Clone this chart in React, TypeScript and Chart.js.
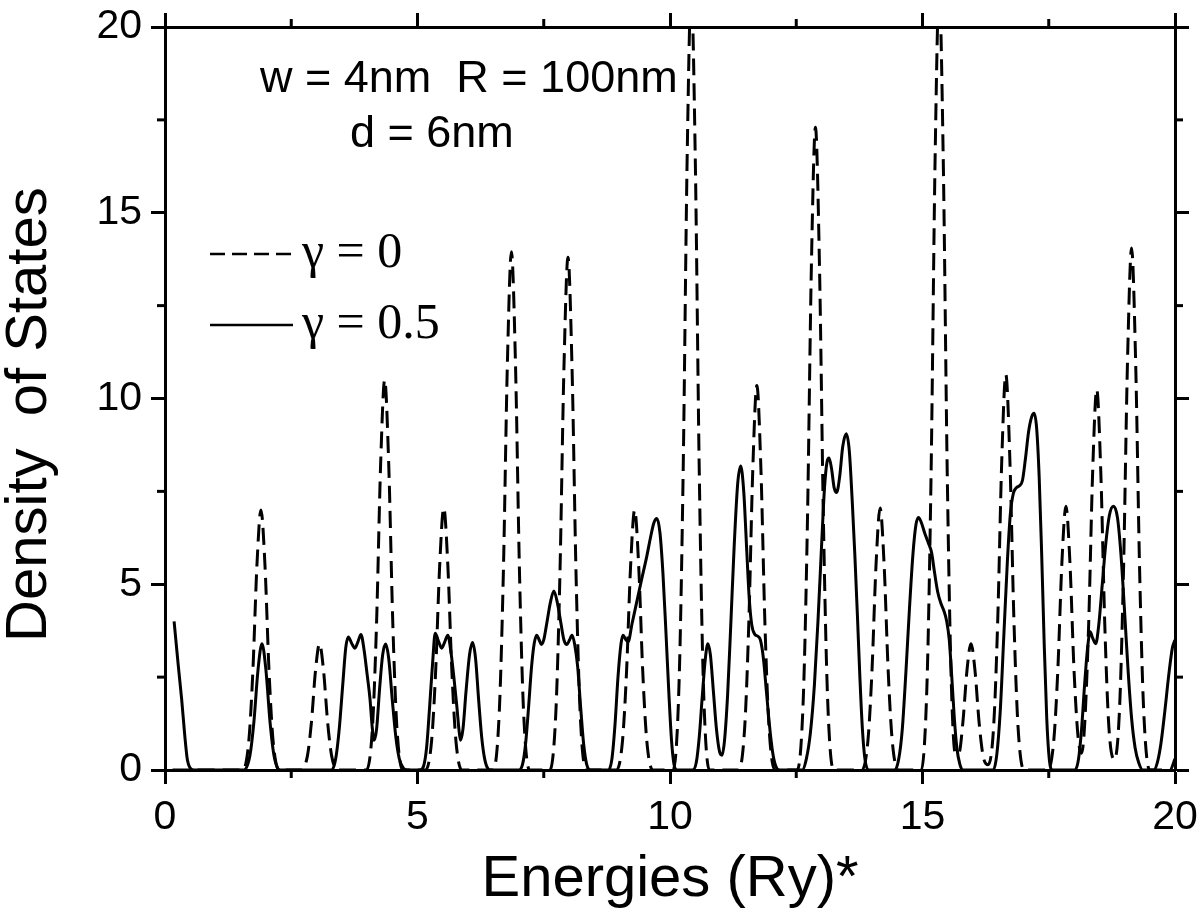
import React, { useEffect, useRef } from "react";
import { Chart, registerables } from "chart.js";

Chart.register(...registerables);

// ---- data ----
// Density of states, gamma = 0 (dashed): [energy, DOS]
const gamma0Curve: [number, number][] = [
  [0.15, 0], [1.54, 0], [1.66, 0.79], [1.74, 2.66], [1.82, 5.5], [1.9, 7.0], [1.98, 5.5], [2.06, 2.66], [2.14, 0.79], [2.26, 0],
  [2.7, 0], [2.82, 0.38], [2.9, 1.29], [2.98, 2.67], [3.06, 3.4], [3.14, 2.67], [3.22, 1.29], [3.3, 0.38], [3.42, 0],
  [3.99, 0], [4.11, 1.19], [4.19, 3.99], [4.27, 8.24], [4.35, 10.5], [4.43, 8.24], [4.51, 3.99], [4.59, 1.19], [4.71, 0],
  [5.16, 0], [5.28, 0.8], [5.36, 2.68], [5.44, 5.53], [5.52, 7.05], [5.6, 5.53], [5.68, 2.68], [5.76, 0.8], [5.88, 0],
  [6.5, 0], [6.62, 1.58], [6.7, 5.3], [6.78, 10.95], [6.86, 13.95], [6.94, 10.95], [7.02, 5.3], [7.1, 1.58], [7.22, 0],
  [7.62, 0], [7.74, 1.56], [7.82, 5.24], [7.9, 10.83], [7.98, 13.8], [8.06, 10.83], [8.14, 5.24], [8.22, 1.56], [8.34, 0],
  [8.94, 0], [9.06, 0.79], [9.14, 2.66], [9.22, 5.5], [9.3, 7.0], [9.38, 5.5], [9.46, 2.66], [9.54, 0.79], [9.66, 0],
  [10.06, 0], [10.18, 2.37], [10.26, 7.98], [10.34, 16.5], [10.42, 21], [10.5, 16.5], [10.58, 7.98], [10.66, 2.37], [10.78, 0],
  [11.36, 0], [11.48, 1.17], [11.56, 3.93], [11.64, 8.12], [11.72, 10.35], [11.8, 8.12], [11.88, 3.93], [11.96, 1.17], [12.08, 0],
  [12.52, 0], [12.64, 1.95], [12.72, 6.57], [12.8, 13.58], [12.88, 17.3], [12.96, 13.58], [13.04, 6.57], [13.12, 1.95], [13.24, 0],
  [13.8, 0], [13.92, 0.8], [14.0, 2.68], [14.08, 5.53], [14.16, 7.05], [14.24, 5.53], [14.32, 2.68], [14.4, 0.8], [14.52, 0],
  [14.97, 0], [15.09, 2.37], [15.17, 7.98], [15.25, 16.5], [15.33, 21], [15.41, 16.5], [15.49, 7.98], [15.57, 2.37], [15.65, 0.45],
  [15.72, 0.45], [15.8, 1.29], [15.88, 2.67], [15.96, 3.4], [16.04, 2.67], [16.12, 1.29], [16.2, 0.38], [16.3, 0.14],
  [16.41, 1.2], [16.49, 4.05], [16.57, 8.36], [16.65, 10.65], [16.73, 8.36], [16.81, 4.05], [16.89, 1.2], [17.01, 0],
  [17.48, 0], [17.6, 0.8], [17.68, 2.7], [17.76, 5.57], [17.84, 7.1], [17.92, 5.57], [18.0, 2.7], [18.08, 0.9], [18.15, 0.45],
  [18.21, 1.2], [18.29, 3.9], [18.37, 8.05], [18.45, 10.25], [18.53, 8.05], [18.61, 3.9], [18.69, 1.17], [18.8, 0.28],
  [18.9, 1.59], [18.98, 5.34], [19.06, 11.03], [19.14, 14.05], [19.22, 11.03], [19.3, 5.34], [19.38, 1.59], [19.5, 0],
  [19.9, 0], [20.0, 0.3],
];

// Density of states, gamma = 0.5 (solid): [energy, DOS]
const gamma05Curve: [number, number][] = [
  [0.18, 4.0], [0.26, 2.85], [0.33, 1.9], [0.39, 0.95], [0.44, 0.3], [0.5, 0.05], [0.58, 0],
  [1.56, 0], [1.68, 0.38], [1.76, 1.29], [1.84, 2.67], [1.92, 3.4], [2.0, 2.67], [2.08, 1.29], [2.16, 0.38], [2.28, 0],
  [3.3, 0], [3.38, 0.3], [3.45, 1.1], [3.52, 2.3], [3.58, 3.3], [3.63, 3.58], [3.7, 3.4], [3.76, 3.28], [3.82, 3.45], [3.88, 3.65],
  [3.94, 3.25], [4.0, 2.6], [4.06, 1.9], [4.1, 1.2], [4.14, 0.8], [4.19, 1.1], [4.25, 2.2], [4.31, 3.1], [4.37, 3.39],
  [4.43, 3.0], [4.5, 1.9], [4.57, 0.9], [4.64, 0.3], [4.72, 0.05], [4.8, 0],
  [5.05, 0], [5.12, 0.1], [5.18, 0.6], [5.24, 1.7], [5.3, 2.9], [5.35, 3.68], [5.42, 3.45], [5.48, 3.28], [5.54, 3.45], [5.6, 3.63],
  [5.66, 3.2], [5.72, 2.5], [5.78, 1.7], [5.82, 1.1], [5.85, 0.8], [5.9, 1.1], [5.96, 2.1], [6.03, 3.1], [6.09, 3.43],
  [6.15, 3.0], [6.21, 1.9], [6.27, 0.9], [6.33, 0.3], [6.4, 0.03], [6.46, 0],
  [7.0, 0], [7.08, 0.15], [7.14, 0.7], [7.2, 1.7], [7.26, 2.8], [7.31, 3.4], [7.36, 3.63], [7.41, 3.5], [7.45, 3.38], [7.5, 3.5],
  [7.56, 3.95], [7.63, 4.5], [7.7, 4.82], [7.77, 4.5], [7.84, 3.95], [7.9, 3.5], [7.96, 3.38], [8.01, 3.5], [8.06, 3.63],
  [8.11, 3.4], [8.17, 2.8], [8.23, 1.7], [8.29, 0.7], [8.35, 0.15], [8.43, 0],
  [8.78, 0], [8.85, 0.3], [8.91, 1.2], [8.97, 2.5], [9.03, 3.4], [9.07, 3.63], [9.12, 3.52], [9.17, 3.45], [9.25, 3.95],
  [9.33, 4.45], [9.44, 5.14], [9.54, 5.75], [9.62, 6.3], [9.68, 6.65], [9.74, 6.77], [9.8, 6.4], [9.86, 5.3], [9.92, 3.7],
  [9.98, 2.0], [10.03, 0.8], [10.08, 0.15], [10.14, 0],
  [10.45, 0], [10.52, 0.2], [10.58, 0.9], [10.64, 2.0], [10.7, 3.0], [10.75, 3.4], [10.8, 3.1], [10.86, 2.1], [10.92, 1.1],
  [10.98, 0.5], [11.03, 0.4], [11.08, 0.8], [11.14, 2.0], [11.2, 3.8], [11.27, 6.0], [11.34, 7.7], [11.4, 8.18], [11.46, 7.5],
  [11.52, 5.9], [11.57, 4.6], [11.62, 3.9], [11.68, 3.65], [11.74, 3.6], [11.79, 3.5], [11.85, 3.0], [11.91, 2.1],
  [11.97, 1.2], [12.03, 0.5], [12.09, 0.12], [12.16, 0],
  [12.62, 0], [12.7, 0.3], [12.78, 1.0], [12.86, 2.3], [12.93, 4.0], [13.0, 6.0], [13.06, 7.6], [13.11, 8.3], [13.15, 8.4],
  [13.2, 8.1], [13.25, 7.6], [13.3, 7.47], [13.36, 7.9], [13.42, 8.7], [13.49, 9.05], [13.55, 8.6], [13.61, 7.2], [13.66, 5.8],
  [13.71, 4.2], [13.76, 2.5], [13.81, 1.1], [13.86, 0.3], [13.93, 0],
  [14.45, 0], [14.53, 0.3], [14.6, 1.1], [14.67, 2.6], [14.74, 4.3], [14.81, 5.8], [14.87, 6.6], [14.92, 6.8], [14.98, 6.65],
  [15.05, 6.35], [15.12, 6.1], [15.18, 5.85], [15.24, 5.3], [15.3, 4.8], [15.36, 4.5], [15.42, 4.3], [15.48, 4.0],
  [15.53, 3.5], [15.58, 2.5], [15.63, 1.4], [15.68, 0.6], [15.74, 0.15], [15.8, 0],
  [16.4, 0], [16.47, 0.4], [16.54, 1.6], [16.61, 3.6], [16.68, 5.6], [16.74, 6.9], [16.8, 7.45], [16.86, 7.6], [16.92, 7.65],
  [16.98, 7.8], [17.04, 8.4], [17.1, 9.1], [17.16, 9.5], [17.21, 9.6], [17.26, 9.2], [17.31, 7.9], [17.36, 5.8], [17.41, 3.4],
  [17.46, 1.4], [17.51, 0.3], [17.57, 0],
  [18.02, 0], [18.09, 0.3], [18.15, 1.1], [18.21, 2.3], [18.27, 3.3], [18.32, 3.72], [18.37, 3.55], [18.43, 3.4], [18.49, 3.9],
  [18.56, 5.0], [18.63, 6.1], [18.7, 6.85], [18.78, 7.1], [18.86, 6.8], [18.93, 5.8], [19.0, 4.3], [19.07, 2.7], [19.14, 1.4],
  [19.21, 0.6], [19.28, 0.2], [19.36, 0],
  [19.58, 0], [19.65, 0.2], [19.72, 0.7], [19.8, 1.6], [19.88, 2.6], [19.95, 3.3], [20.0, 3.5],
];

const seriesLabels = ["γ = 0", "γ = 0.5"];
const annotationLines = ["w = 4nm  R = 100nm", "d = 6nm"];
const xTitle = "Energies (Ry)*";
const yTitle = "Density  of States  ";
const axisMin = 0;
const axisMax = 20;
const majorStep = 5;
const minorTickValues = [2.5, 7.5, 12.5, 17.5];

const SANS = "'Liberation Sans', Arial, Helvetica, sans-serif";
const SERIF = "'Liberation Serif', 'Times New Roman', serif";

const decorPlugin = {
  id: "decor",
  afterDraw(chart: any) {
    const { ctx, chartArea: a, scales } = chart;
    ctx.save();
    ctx.strokeStyle = "#000";
    ctx.fillStyle = "#000";
    ctx.lineCap = "butt";
    ctx.lineWidth = 3;
    const seg = (x1: number, y1: number, x2: number, y2: number) => {
      ctx.beginPath();
      ctx.moveTo(x1, y1);
      ctx.lineTo(x2, y2);
      ctx.stroke();
    };
    // minor ticks on all four sides (outward)
    for (const v of minorTickValues) {
      const px = scales.x.getPixelForValue(v);
      seg(px, a.bottom, px, a.bottom + 8);
      seg(px, a.top, px, a.top - 8);
      const py = scales.y.getPixelForValue(v);
      seg(a.left, py, a.left - 8, py);
      seg(a.right, py, a.right + 8, py);
    }
    // parameter annotation
    ctx.font = `45px ${SANS}`;
    ctx.textAlign = "left";
    ctx.textBaseline = "alphabetic";
    ctx.fillText(annotationLines[0], a.left + 95, a.top + 65);
    ctx.fillText(annotationLines[1], a.left + 185, a.top + 120);
    // legend
    const ds = chart.data.datasets;
    const rows = [a.top + 227, a.top + 298];
    ds.forEach((d: any, i: number) => {
      const y = rows[i];
      ctx.lineWidth = 2.5;
      ctx.setLineDash(d.borderDash && d.borderDash.length ? [15, 7] : []);
      seg(a.left + 45, y, a.left + 128, y);
      ctx.setLineDash([]);
      ctx.font = `50px ${SERIF}`;
      ctx.fillText(d.label, a.left + 137, y + 13);
    });
    ctx.restore();
  },
};

const baseGrid = {
  drawOnChartArea: false,
  drawTicks: true,
  tickLength: 14,
  tickWidth: 3,
  tickColor: "#000",
};
const baseBorder = { display: true, width: 3, color: "#000" };

const fixBox = (w: number | null, h: number | null) => (s: any) => {
  if (w !== null) s.width = w;
  if (h !== null) s.height = h;
  s.paddingTop = 0;
  s.paddingBottom = 0;
  s.paddingLeft = 0;
  s.paddingRight = 0;
};

export default function App() {
  const ref = useRef<HTMLCanvasElement | null>(null);

  useEffect(() => {
    if (!ref.current) return;
    const chart = new Chart(ref.current, {
      type: "line",
      data: {
        datasets: [
          {
            label: seriesLabels[0],
            data: gamma0Curve.map(([x, y]) => ({ x, y })),
            borderColor: "#000",
            borderWidth: 3,
            borderDash: [17, 8],
            pointRadius: 0,
            fill: false,
            cubicInterpolationMode: "monotone",
          },
          {
            label: seriesLabels[1],
            data: gamma05Curve.map(([x, y]) => ({ x, y })),
            borderColor: "#000",
            borderWidth: 3,
            borderDash: [],
            pointRadius: 0,
            fill: false,
            cubicInterpolationMode: "monotone",
          },
        ],
      },
      options: {
        responsive: false,
        animation: false,
        devicePixelRatio: 1,
        layout: { padding: 0 },
        plugins: { legend: { display: false }, tooltip: { enabled: false } },
        scales: {
          x: {
            type: "linear",
            position: "bottom",
            min: axisMin,
            max: axisMax,
            ticks: { stepSize: majorStep, color: "#000", font: { family: SANS, size: 41 }, padding: 9, maxRotation: 0 },
            grid: baseGrid,
            border: baseBorder,
            title: { display: true, text: xTitle, color: "#000", font: { family: SANS, size: 58, lineHeight: 1 }, padding: 0 },
            afterFit: fixBox(null, 139),
          },
          y: {
            type: "linear",
            position: "left",
            min: axisMin,
            max: axisMax,
            ticks: { stepSize: majorStep, color: "#000", font: { family: SANS, size: 41 }, padding: 9 },
            grid: baseGrid,
            border: baseBorder,
            title: { display: true, text: yTitle, color: "#000", font: { family: SANS, size: 58, lineHeight: 1 }, padding: { top: 1, bottom: 0 } },
            afterFit: fixBox(165, null),
          },
          xTop: {
            type: "linear",
            position: "top",
            min: axisMin,
            max: axisMax,
            ticks: { stepSize: majorStep, display: false },
            grid: baseGrid,
            border: baseBorder,
            afterFit: fixBox(null, 27),
          },
          yRight: {
            type: "linear",
            position: "right",
            min: axisMin,
            max: axisMax,
            ticks: { stepSize: majorStep, display: false },
            grid: baseGrid,
            border: baseBorder,
            afterFit: fixBox(25, null),
          },
        },
      } as any,
      plugins: [decorPlugin],
    });
    return () => chart.destroy();
  }, []);

  return (
    <div style={{ position: "absolute", left: 0, top: 0, width: 1200, height: 909, background: "#fff" }}>
      <canvas ref={ref} width={1200} height={909} style={{ display: "block" }} />
    </div>
  );
}
